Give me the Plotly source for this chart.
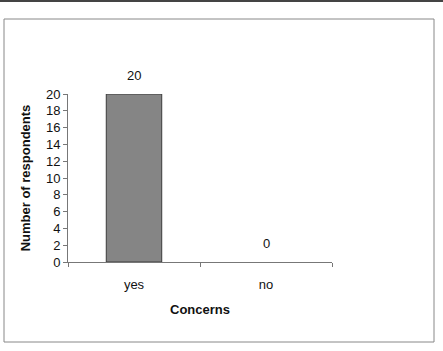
import plotly.graph_objects as go

categories = ["yes", "no"]
values = [20, 0]
y_ticks = list(range(0, 21, 2))

W, H = 443, 351
L, R, T, B = 68, 332, 94, 262  # plot area pixel box

def px(x):
    return (x - L) / (R - L)

def py(y):
    return (B - y) / (B - T)

fig = go.Figure()
fig.add_trace(go.Bar(
    x=categories, y=values, width=0.42,
    marker=dict(color="#858585",
                line=dict(color="#3a3a3a", width=[1 if v > 0 else 0 for v in values])),
    showlegend=False, hoverinfo="skip",
))

for c, v in zip(categories, values):
    fig.add_annotation(x=c, y=v, text=str(v), showarrow=False, yshift=19,
                       font=dict(size=13, color="#111"))

fig.update_layout(
    width=W, height=H,
    margin=dict(l=L, r=W - R, t=T, b=H - B, pad=0),
    paper_bgcolor="white", plot_bgcolor="white",
    font=dict(family="Liberation Sans, Arial, sans-serif", size=13, color="#111"),
    xaxis=dict(
        showline=True, linecolor="#777", linewidth=1,
        ticks="outside", ticklen=4, tickcolor="#777", tickson="boundaries",
        ticklabelstandoff=10,
        showgrid=False, zeroline=False,
        title=dict(text="<b>Concerns</b>", standoff=14, font=dict(size=13)),
    ),
    yaxis=dict(
        range=[0, 20], tickvals=y_ticks, showline=True, linecolor="#777", linewidth=1,
        ticks="outside", ticklen=4, tickcolor="#777", showgrid=False, zeroline=False,
        title=dict(text="<b>Number of respondents</b>", standoff=12, font=dict(size=13)),
    ),
    shapes=[
        dict(type="rect", xref="paper", yref="paper",
             x0=px(4), x1=px(434), y0=py(342), y1=py(19),
             line=dict(color="#888", width=1)),
        dict(type="line", xref="paper", yref="paper",
             x0=px(0), x1=px(443), y0=py(1), y1=py(1),
             line=dict(color="#444", width=2)),
    ],
)

fig.write_html("out.html")
